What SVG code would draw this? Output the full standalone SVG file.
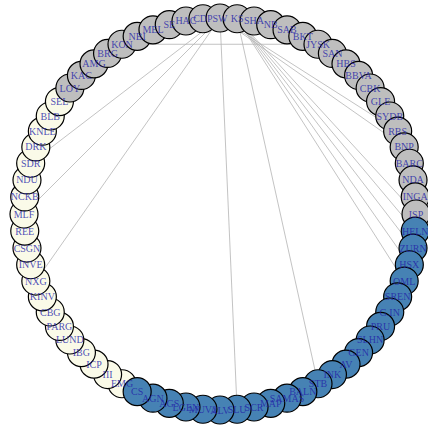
<svg xmlns="http://www.w3.org/2000/svg" width="428" height="431" viewBox="0 0 428 431">
<style>
.e{stroke:#B4B4B4;stroke-width:0.8;fill:none}
circle{stroke:#000;stroke-width:1.2}
.g circle{fill:#BEBEBE}
.c circle{fill:#FAFAE8}
.b circle{fill:#4682B4}
text{font-family:"Liberation Serif","Times New Roman",serif;font-size:10px;fill:#2323A8;fill-opacity:0.8;text-anchor:middle;dominant-baseline:central}
</style>
<rect width="428" height="431" fill="#fff"/>
<g id="edges">
<line class="e" x1="318" y1="44.26" x2="122" y2="44.26"/>
<line class="e" x1="220" y1="18" x2="30.68" y2="163.27"/>
<line class="e" x1="220" y1="18" x2="24" y2="214"/>
<line class="e" x1="220" y1="18" x2="35.82" y2="281.04"/>
<line class="e" x1="220" y1="18" x2="237.08" y2="409.25"/>
<line class="e" x1="237.08" y1="18.75" x2="318" y2="383.74"/>
<line class="e" x1="237.08" y1="18.75" x2="415.25" y2="231.08"/>
<line class="e" x1="237.08" y1="18.75" x2="413.02" y2="248.04"/>
<line class="e" x1="237.08" y1="18.75" x2="409.32" y2="264.73"/>
<line class="e" x1="237.08" y1="18.75" x2="404.18" y2="281.04"/>
<line class="e" x1="237.08" y1="18.75" x2="416" y2="214"/>
<line class="e" x1="220" y1="18" x2="397.64" y2="131.17"/>
<line class="e" x1="220" y1="18" x2="404.18" y2="146.96"/>
</g>
<g id="nodes">
<g id="n48" class="c"><circle cx="122" cy="383.74" r="14"/></g>
<g id="n47" class="c"><circle cx="107.58" cy="374.55" r="14"/></g>
<g id="n46" class="c"><circle cx="94.01" cy="364.14" r="14"/></g>
<g id="n45" class="c"><circle cx="81.41" cy="352.59" r="14"/></g>
<g id="n44" class="c"><circle cx="69.86" cy="339.99" r="14"/></g>
<g id="n43" class="c"><circle cx="59.45" cy="326.42" r="14"/></g>
<g id="n42" class="c"><circle cx="50.26" cy="312" r="14"/></g>
<g id="n41" class="c"><circle cx="42.36" cy="296.83" r="14"/></g>
<g id="n40" class="c"><circle cx="35.82" cy="281.04" r="14"/></g>
<g id="n39" class="c"><circle cx="30.68" cy="264.73" r="14"/></g>
<g id="n38" class="c"><circle cx="26.98" cy="248.04" r="14"/></g>
<g id="n37" class="c"><circle cx="24.75" cy="231.08" r="14"/></g>
<g id="n36" class="c"><circle cx="24" cy="214" r="14"/></g>
<g id="n35" class="c"><circle cx="24.75" cy="196.92" r="14"/></g>
<g id="n34" class="c"><circle cx="26.98" cy="179.96" r="14"/></g>
<g id="n33" class="c"><circle cx="30.68" cy="163.27" r="14"/></g>
<g id="n32" class="c"><circle cx="35.82" cy="146.96" r="14"/></g>
<g id="n31" class="c"><circle cx="42.36" cy="131.17" r="14"/></g>
<g id="n30" class="c"><circle cx="50.26" cy="116" r="14"/></g>
<g id="n29" class="c"><circle cx="59.45" cy="101.58" r="14"/></g>
<g id="n28" class="g"><circle cx="69.86" cy="88.01" r="14"/></g>
<g id="n27" class="g"><circle cx="81.41" cy="75.41" r="14"/></g>
<g id="n26" class="g"><circle cx="94.01" cy="63.86" r="14"/></g>
<g id="n25" class="g"><circle cx="107.58" cy="53.45" r="14"/></g>
<g id="n24" class="g"><circle cx="122" cy="44.26" r="14"/></g>
<g id="n23" class="g"><circle cx="137.17" cy="36.36" r="14"/></g>
<g id="n22" class="g"><circle cx="152.96" cy="29.82" r="14"/></g>
<g id="n21" class="g"><circle cx="169.27" cy="24.68" r="14"/></g>
<g id="n20" class="g"><circle cx="185.96" cy="20.98" r="14"/></g>
<g id="n19" class="g"><circle cx="202.92" cy="18.75" r="14"/></g>
<g id="n18" class="g"><circle cx="220" cy="18" r="14"/></g>
<g id="n17" class="g"><circle cx="237.08" cy="18.75" r="14"/></g>
<g id="n16" class="g"><circle cx="254.04" cy="20.98" r="14"/></g>
<g id="n15" class="g"><circle cx="270.73" cy="24.68" r="14"/></g>
<g id="n14" class="g"><circle cx="287.04" cy="29.82" r="14"/></g>
<g id="n13" class="g"><circle cx="302.83" cy="36.36" r="14"/></g>
<g id="n12" class="g"><circle cx="318" cy="44.26" r="14"/></g>
<g id="n11" class="g"><circle cx="332.42" cy="53.45" r="14"/></g>
<g id="n10" class="g"><circle cx="345.99" cy="63.86" r="14"/></g>
<g id="n9" class="g"><circle cx="358.59" cy="75.41" r="14"/></g>
<g id="n8" class="g"><circle cx="370.14" cy="88.01" r="14"/></g>
<g id="n7" class="g"><circle cx="380.55" cy="101.58" r="14"/></g>
<g id="n6" class="g"><circle cx="389.74" cy="116" r="14"/></g>
<g id="n5" class="g"><circle cx="397.64" cy="131.17" r="14"/></g>
<g id="n4" class="g"><circle cx="404.18" cy="146.96" r="14"/></g>
<g id="n3" class="g"><circle cx="409.32" cy="163.27" r="14"/></g>
<g id="n2" class="g"><circle cx="413.02" cy="179.96" r="14"/></g>
<g id="n1" class="g"><circle cx="415.25" cy="196.92" r="14"/></g>
<g id="n0" class="g"><circle cx="416" cy="214" r="14"/></g>
<g id="n71" class="b"><circle cx="415.25" cy="231.08" r="14"/></g>
<g id="n70" class="b"><circle cx="413.02" cy="248.04" r="14"/></g>
<g id="n69" class="b"><circle cx="409.32" cy="264.73" r="14"/></g>
<g id="n68" class="b"><circle cx="404.18" cy="281.04" r="14"/></g>
<g id="n67" class="b"><circle cx="397.64" cy="296.83" r="14"/></g>
<g id="n66" class="b"><circle cx="389.74" cy="312" r="14"/></g>
<g id="n65" class="b"><circle cx="380.55" cy="326.42" r="14"/></g>
<g id="n64" class="b"><circle cx="370.14" cy="339.99" r="14"/></g>
<g id="n63" class="b"><circle cx="358.59" cy="352.59" r="14"/></g>
<g id="n62" class="b"><circle cx="345.99" cy="364.14" r="14"/></g>
<g id="n61" class="b"><circle cx="332.42" cy="374.55" r="14"/></g>
<g id="n60" class="b"><circle cx="318" cy="383.74" r="14"/></g>
<g id="n59" class="b"><circle cx="302.83" cy="391.64" r="14"/></g>
<g id="n58" class="b"><circle cx="287.04" cy="398.18" r="14"/></g>
<g id="n57" class="b"><circle cx="270.73" cy="403.32" r="14"/></g>
<g id="n56" class="b"><circle cx="254.04" cy="407.02" r="14"/></g>
<g id="n55" class="b"><circle cx="237.08" cy="409.25" r="14"/></g>
<g id="n54" class="b"><circle cx="220" cy="410" r="14"/></g>
<g id="n53" class="b"><circle cx="202.92" cy="409.25" r="14"/></g>
<g id="n52" class="b"><circle cx="185.96" cy="407.02" r="14"/></g>
<g id="n51" class="b"><circle cx="169.27" cy="403.32" r="14"/></g>
<g id="n50" class="b"><circle cx="152.96" cy="398.18" r="14"/></g>
<g id="n49" class="b"><circle cx="137.17" cy="391.64" r="14"/></g>
</g>
<g id="labels">
<text x="416" y="214">ISP</text>
<text x="415.25" y="196.92">INGA</text>
<text x="413.02" y="179.96">NDA</text>
<text x="409.32" y="163.27">BARC</text>
<text x="404.18" y="146.96">BNP</text>
<text x="397.64" y="131.17">RBS</text>
<text x="389.74" y="116">SYDB</text>
<text x="380.55" y="101.58">GLE</text>
<text x="370.14" y="88.01">CBK</text>
<text x="358.59" y="75.41">BBVA</text>
<text x="345.99" y="63.86">HBS</text>
<text x="332.42" y="53.45">SAN</text>
<text x="318" y="44.26">JYSK</text>
<text x="302.83" y="36.36">BKT</text>
<text x="287.04" y="29.82">SAB</text>
<text x="270.73" y="24.68">NB</text>
<text x="254.04" y="20.98">SHA</text>
<text x="237.08" y="18.75">KS</text>
<text x="220" y="18">SW</text>
<text x="202.92" y="18.75">CDP</text>
<text x="185.96" y="20.98">HAC</text>
<text x="169.27" y="24.68">SE</text>
<text x="152.96" y="29.82">MEL</text>
<text x="137.17" y="36.36">NBI</text>
<text x="122" y="44.26">KON</text>
<text x="107.58" y="53.45">BRG</text>
<text x="94.01" y="63.86">AMG</text>
<text x="81.41" y="75.41">KAC</text>
<text x="69.86" y="88.01">LOY</text>
<text x="59.45" y="101.58">SEL</text>
<text x="50.26" y="116">BLB</text>
<text x="42.36" y="131.17">KNLE</text>
<text x="35.82" y="146.96">DRK</text>
<text x="30.68" y="163.27">SDR</text>
<text x="26.98" y="179.96">NDU</text>
<text x="24.75" y="196.92">NCKB</text>
<text x="24" y="214">MLF</text>
<text x="24.75" y="231.08">REE</text>
<text x="26.98" y="248.04">CSGN</text>
<text x="30.68" y="264.73">INVE</text>
<text x="35.82" y="281.04">NXG</text>
<text x="42.36" y="296.83">KINV</text>
<text x="50.26" y="312">CBG</text>
<text x="59.45" y="326.42">PARG</text>
<text x="69.86" y="339.99">LUND</text>
<text x="81.41" y="352.59">IBG</text>
<text x="94.01" y="364.14">ICP</text>
<text x="107.58" y="374.55">III</text>
<text x="122" y="383.74">EMG</text>
<text x="137.17" y="391.64">CS</text>
<text x="152.96" y="398.18">AGN</text>
<text x="169.27" y="403.32">AGS</text>
<text x="185.96" y="407.02">LGEN</text>
<text x="202.92" y="409.25">MUV2</text>
<text x="220" y="410">ALV</text>
<text x="237.08" y="409.25">SLU</text>
<text x="254.04" y="407.02">SCR</text>
<text x="270.73" y="403.32">MAP</text>
<text x="287.04" y="398.18">SAMAS</text>
<text x="302.83" y="391.64">BALN</text>
<text x="318" y="383.74">STB</text>
<text x="332.42" y="374.55">INK</text>
<text x="345.99" y="364.14">AV</text>
<text x="358.59" y="352.59">GEN</text>
<text x="370.14" y="339.99">SLHN</text>
<text x="380.55" y="326.42">PRU</text>
<text x="389.74" y="312">G.IN</text>
<text x="397.64" y="296.83">SREN</text>
<text x="404.18" y="281.04">OML</text>
<text x="409.32" y="264.73">HSX</text>
<text x="413.02" y="248.04">ZURN</text>
<text x="415.25" y="231.08">HELN</text>
</g>
</svg>
